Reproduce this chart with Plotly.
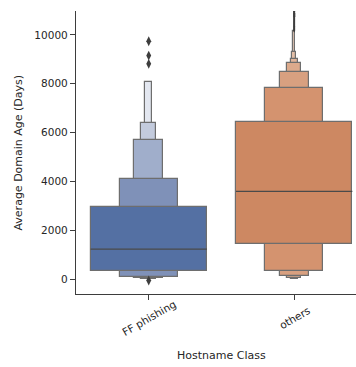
import plotly.graph_objects as go

# Letter-value (boxen) summary of domain age per hostname class
categories = ["FF phishing", "others"]

ff_upper = [2940, 4080, 5714, 6394, 8070]
ff_lower = [327, 70, 28, 10, 0]
ff_median = 1224
ff_outliers = [9740, 9155, 8816, -60]

ot_upper = [6420, 7820, 8500, 8870, 9020, 9300, 10150]
ot_lower = [1415, 327, 110, 30, 10, 5, 0]
ot_median = 3590
ot_outliers = [10170, 10210, 10250, 10290, 10330, 10370, 10410, 10450,
               10490, 10530, 10570, 10610, 10650, 10690, 10730, 10770,
               10810, 10850, 10890, 10930, 10960, 10980]

y_ticks = [0, 2000, 4000, 6000, 8000, 10000]
y_ticktext = ["0", "2000", "4000", "6000", "8000", "10000"]

ff_colors = ["#5470a3", "#7f91b8", "#a0aecb", "#c3cbdd", "#e3e7f0"]
ot_colors = ["#cd8862", "#d4936f", "#d8a080", "#dcaa8c", "#e0b49a",
             "#e4bfa8", "#e8cab7"]

BOX_W = 0.8
EDGE = "#6e6e6e"
DARK = "#3d3d3d"
TXT = "#262626"
FONT = "DejaVu Sans"

fig = go.Figure()

groups = [
    (0, ff_upper, ff_lower, ff_median, ff_outliers, ff_colors, 7),
    (1, ot_upper, ot_lower, ot_median, ot_outliers, ot_colors, 3),
]

for pos, upper, lower, med, outl, colors, msize in groups:
    n = len(upper)
    # narrowest level first so the wider levels sit on top
    for k in reversed(range(n)):
        w = BOX_W / (2 ** k)
        fig.add_trace(go.Bar(
            x=[pos], y=[upper[k] - lower[k]], base=[lower[k]], width=w,
            marker=dict(color=colors[k], line=dict(color=EDGE, width=1.2)),
            hoverinfo="skip", showlegend=False,
        ))
    fig.add_trace(go.Scatter(
        x=[pos - BOX_W / 2, pos + BOX_W / 2], y=[med, med], mode="lines",
        line=dict(color="#4a4a4a", width=1.2),
        hoverinfo="skip", showlegend=False,
    ))
    fig.add_trace(go.Scatter(
        x=[pos] * len(outl), y=outl, mode="markers",
        marker=dict(symbol="diamond-tall", size=msize, color=DARK,
                    line=dict(width=0)),
        hoverinfo="skip", showlegend=False, cliponaxis=True,
    ))

fig.update_layout(
    width=356, height=367,
    margin=dict(l=76, r=0, t=11, b=73),
    paper_bgcolor="white", plot_bgcolor="white",
    barmode="overlay", bargap=0,
    font=dict(family=FONT, size=10, color=TXT),
    xaxis=dict(
        range=[-0.5, 1.425], tickvals=[0, 1], showticklabels=False,
        ticks="outside", ticklen=5, tickwidth=1, tickcolor=DARK,
        showline=True, linecolor=DARK, linewidth=1.3,
        showgrid=False, zeroline=False,
    ),
    yaxis=dict(
        range=[-614, 10980], tickvals=y_ticks, ticktext=y_ticktext,
        ticks="outside", ticklen=5, tickwidth=1, tickcolor=DARK,
        showline=True, linecolor=DARK, linewidth=1.3,
        showgrid=False, zeroline=False,
        tickfont=dict(family=FONT, size=10.5, color=TXT),
    ),
)

for pos, name in enumerate(categories):
    fig.add_annotation(
        x=pos, y=-0.085, xref="x", yref="paper", text=name,
        showarrow=False, textangle=-30,
        font=dict(family=FONT, size=10.5, color=TXT),
        xanchor="center", yanchor="middle",
    )

fig.add_annotation(
    x=0.521, y=-0.218, xref="paper", yref="paper", text="Hostname Class",
    showarrow=False, font=dict(family=FONT, size=11, color=TXT),
    xanchor="center", yanchor="middle",
)
fig.add_annotation(
    x=-0.207, y=0.5, xref="paper", yref="paper",
    text="Average Domain Age (Days)", showarrow=False, textangle=-90,
    font=dict(family=FONT, size=11, color=TXT),
    xanchor="center", yanchor="middle",
)

fig.write_html("out.html")
